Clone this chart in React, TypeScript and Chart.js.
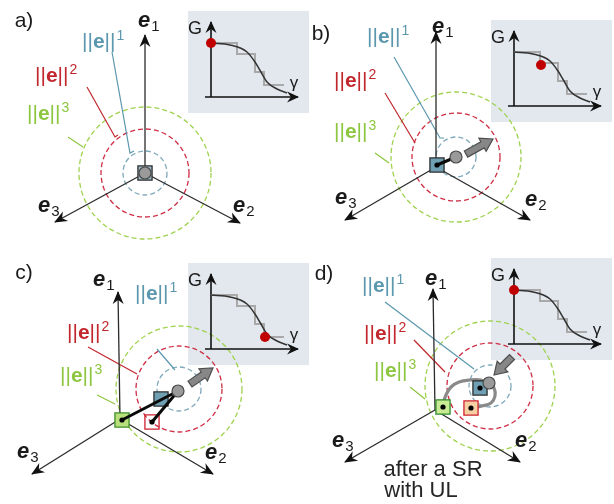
import { useEffect, useRef } from 'react';
import { Chart, registerables } from 'chart.js';
Chart.register(...registerables);

type P = [number, number];

const W = 614;
const H = 504;
const FONT = '"Liberation Sans", Arial, sans-serif';

// ---- diagram data (pixel-like coordinates on a 614 x 504 plane) ----
const panelNames = ['a)', 'b)', 'c)', 'd)'];
const panelNamePos: P[] = [[24, 21], [321, 34], [24, 273], [324, 274]];

const origins: P[] = [[145, 173], [436, 167], [120, 419], [435, 410]];
const e1Tips: P[] = [[145, 35], [436, 32], [118, 292], [433, 289]];
const e2Tips: P[] = [[240, 223], [530, 220], [213, 474], [520, 462]];
const e3Tips: P[] = [[55, 222], [345, 220], [32, 474], [345, 462]];
const e1LabelPos: P[] = [[138, 21], [432, 27], [93, 280], [425, 279]];
const e2LabelPos: P[] = [[233, 206], [525, 200], [205, 453], [515, 441]];
const e3LabelPos: P[] = [[38, 206], [335, 198], [17, 452], [332, 441]];

const normPowers = ['1', '2', '3'];
const circleCenters: P[] = [[145, 173], [456, 157], [179, 389], [490, 386]];
const circleRadii: number[][] = [[22, 44, 66], [20, 44, 65], [22, 43, 63], [21, 43, 65]];
const normLabelPos: P[][] = [
  [[82, 42], [35, 76], [27, 114]],
  [[367, 37], [334, 81], [334, 132]],
  [[135, 294], [67, 333], [60, 376]],
  [[362, 286], [364, 334], [374, 371]],
];
const leaderLines: P[][][] = [
  [[[112, 52], [130, 153], [134, 151]], [[87, 87], [115, 137], [118, 135]], [[68, 137], [83, 147]]],
  [[[394, 57], [440, 138], [444, 138]], [[385, 93], [415, 143]], [[375, 153], [389, 163]]],
  [[[157, 349], [175, 370]], [[88, 347], [137, 374]], [[97, 395], [115, 404]]],
  [[[385, 302], [474, 369]], [[414, 340], [445, 372]], [[410, 387], [425, 399]]],
];

// inset G(gamma) plots
const insetOrigins: P[] = [[211, 43], [514, 52], [211, 295], [514, 290]];
const curveX = [0, 19, 36, 44, 50, 56, 66, 76];
const curveY = [0, 2, 9, 19, 29, 39, 46, 50];
const stepX = [0, 26, 26, 44, 44, 53, 53, 73];
const stepY = [0, 0, 11, 11, 29, 29, 42, 42];
const markerOffsets: P[] = [[0, 0], [27, 13], [54, 42], [0, 0]];

// state markers
const balls: P[] = [[145, 173], [456, 157], [178, 391], [489, 383]];
const blueSquares: P[] = [[145, 173], [437, 165], [161, 399], [480, 388]];
const greenSquares: P[] = [[122, 420], [443, 407]];
const redSquares: P[] = [[152, 422], [471, 408]];
const blackLinks: P[][] = [
  [[437, 165], [456, 157]],
  [[122, 420], [178, 391]],
  [[152, 422], [178, 391]],
];
const dots: P[] = [[437, 165], [122, 420], [152, 422], [480, 388], [471, 408], [443, 407]];
const grayPaths: P[][] = [
  [[443, 404], [446, 395], [451, 387], [459, 382], [470, 380], [481, 380], [489, 383]],
  [[489, 383], [494, 388], [495, 396], [491, 403], [482, 406], [471, 408]],
];
const blockArrows: P[][] = [
  [[466, 154], [493, 139]],
  [[190, 384], [213, 368]],
  [[512, 357], [494, 375]],
];
const noteLines = ['after a SR', 'with UL'];
const notePos: P[] = [[433, 470], [421, 491]];

// ---- styles ----
const NORM_COLORS = ['#5b97ae', '#c1272d', '#8dc63f'];
const CIRCLE_COLORS = ['#7fa9bb', '#cf2f45', '#9fd24f'];

const pts = (a: P[]) => a.map(([x, y]) => ({ x, y }));
const rel = (o: P, xs: number[], ys: number[]): P[] => xs.map((x, i) => [o[0] + x, o[1] + ys[i]]);

function lineDs(points: P[], color: string, width: number, order: number, extra: any = {}) {
  return {
    data: pts(points),
    showLine: true,
    borderColor: color,
    backgroundColor: color,
    borderWidth: width,
    pointRadius: 0,
    pointHoverRadius: 0,
    fill: false,
    tension: 0,
    order,
    ...extra,
  };
}
function pointDs(points: P[], style: string, radius: number, fill: string, stroke: string, bw: number, order: number) {
  return {
    data: pts(points),
    showLine: false,
    pointStyle: style,
    pointRadius: radius,
    pointHoverRadius: radius,
    backgroundColor: fill,
    borderColor: stroke,
    borderWidth: bw,
    order,
  };
}

function insetAxes(o: P): { y: P[]; x: P[] } {
  return { y: [[o[0], o[1] + 54], [o[0], o[1] - 21]], x: [[o[0] - 6, o[1] + 54], [o[0] + 87, o[1] + 54]] };
}

function buildDatasets() {
  const ds: any[] = [];
  origins.forEach((o, i) => {
    [e1Tips[i], e2Tips[i], e3Tips[i]].forEach((t) => ds.push(lineDs([o, t], '#2b2b2b', 1.3, 10)));
    leaderLines[i].forEach((l, k) => ds.push(lineDs(l, NORM_COLORS[k], 1.2, 10)));
    const ax = insetAxes(insetOrigins[i]);
    ds.push(lineDs(ax.y, '#111', 1.6, 10));
    ds.push(lineDs(ax.x, '#111', 1.6, 10));
    ds.push(lineDs(rel(insetOrigins[i], stepX, stepY), '#a9a9a9', 2, 9));
    ds.push(lineDs(rel(insetOrigins[i], curveX, curveY), '#333', 1.5, 8, { cubicInterpolationMode: 'monotone' }));
    const m = markerOffsets[i];
    ds.push(pointDs([[insetOrigins[i][0] + m[0], insetOrigins[i][1] + m[1]]], 'circle', 5, '#c00000', '#c00000', 0, 7));
  });
  grayPaths.forEach((p) => ds.push(lineDs(p, '#8a8a8a', 3.2, 6, { tension: 0.4 })));
  ds.push(pointDs([blueSquares[0]], 'rect', 10, '#9db8c5', '#2d2d2d', 1.3, 5));
  ds.push(pointDs(blueSquares.slice(1), 'rect', 10, '#6f9fb3', '#2d2d2d', 1.3, 5));
  ds.push(pointDs([greenSquares[0]], 'rect', 10, '#b8e07c', '#3f8f2a', 1.3, 5));
  ds.push(pointDs([greenSquares[1]], 'rect', 10, '#c8eb93', '#2f8a2a', 1.3, 5));
  ds.push(pointDs([redSquares[0]], 'rect', 10, 'rgba(255,255,255,0)', '#d0202f', 1.3, 5));
  ds.push(pointDs([redSquares[1]], 'rect', 10, '#f6cfa3', '#d0202f', 1.3, 5));
  blackLinks.forEach((l) => ds.push(lineDs(l, '#0a0a0a', 3, 4)));
  ds.push(pointDs(dots, 'circle', 2.6, '#000', '#000', 0, 3));
  ds.push(pointDs(balls, 'circle', 6, '#9a9a9a', '#4a4a4a', 1.2, 2));
  return ds;
}

function stealth(ctx: CanvasRenderingContext2D, tip: P, from: P, len: number, half: number) {
  const ang = Math.atan2(tip[1] - from[1], tip[0] - from[0]);
  ctx.save();
  ctx.translate(tip[0], tip[1]);
  ctx.rotate(ang);
  ctx.beginPath();
  ctx.moveTo(1, 0);
  ctx.lineTo(-len, -half);
  ctx.lineTo(-len + 4, 0);
  ctx.lineTo(-len, half);
  ctx.closePath();
  ctx.fillStyle = '#111';
  ctx.fill();
  ctx.restore();
}

function blockArrow(ctx: CanvasRenderingContext2D, a: P, b: P) {
  const ang = Math.atan2(b[1] - a[1], b[0] - a[0]);
  const L = Math.hypot(b[0] - a[0], b[1] - a[1]);
  const hl = 12;
  ctx.save();
  ctx.translate(a[0], a[1]);
  ctx.rotate(ang);
  ctx.beginPath();
  ctx.moveTo(0, -3.5);
  ctx.lineTo(L - hl, -3.5);
  ctx.lineTo(L - hl, -7.5);
  ctx.lineTo(L, 0);
  ctx.lineTo(L - hl, 7.5);
  ctx.lineTo(L - hl, 3.5);
  ctx.lineTo(0, 3.5);
  ctx.closePath();
  ctx.fillStyle = '#878787';
  ctx.fill();
  ctx.strokeStyle = '#4f4f4f';
  ctx.lineWidth = 1.2;
  ctx.stroke();
  ctx.restore();
}

function drawE(ctx: CanvasRenderingContext2D, p: P, sub: string) {
  ctx.fillStyle = '#1a1a1a';
  ctx.textBaseline = 'middle';
  ctx.textAlign = 'left';
  ctx.font = `italic bold 22px ${FONT}`;
  ctx.fillText('e', p[0], p[1]);
  const w = ctx.measureText('e').width;
  ctx.font = `15px ${FONT}`;
  ctx.fillText(sub, p[0] + w + 1, p[1] + 6);
}

function drawNorm(ctx: CanvasRenderingContext2D, p: P, power: string, color: string) {
  ctx.fillStyle = color;
  ctx.textBaseline = 'middle';
  ctx.textAlign = 'left';
  let x = p[0];
  ctx.font = `21px ${FONT}`;
  ctx.fillText('||', x, p[1]);
  x += ctx.measureText('||').width;
  ctx.font = `bold 21px ${FONT}`;
  ctx.fillText('e', x, p[1]);
  x += ctx.measureText('e').width;
  ctx.font = `21px ${FONT}`;
  ctx.fillText('||', x, p[1]);
  x += ctx.measureText('||').width + 1;
  ctx.font = `14px ${FONT}`;
  ctx.fillText(power, x, p[1] - 6);
}

const diagramPlugin = {
  id: 'diagram',
  beforeDatasetsDraw(chart: any) {
    const ctx: CanvasRenderingContext2D = chart.ctx;
    const sx = chart.scales.x;
    const sy = chart.scales.y;
    const toPx = (p: P): P => [sx.getPixelForValue(p[0]), sy.getPixelForValue(p[1])];
    ctx.save();
    ctx.fillStyle = '#fff';
    ctx.fillRect(0, 0, chart.width, chart.height);
    // inset backgrounds
    insetOrigins.forEach((o) => {
      const a = toPx([o[0] - 23, o[1] - 32]);
      const b = toPx([Math.min(o[0] + 98, W), o[1] + 70]);
      ctx.fillStyle = '#e2e8ed';
      ctx.fillRect(a[0], a[1], b[0] - a[0], b[1] - a[1]);
    });
    // dashed norm circles
    circleCenters.forEach((c, i) => {
      const cp = toPx(c);
      circleRadii[i].forEach((r, k) => {
        const rp = Math.abs(sx.getPixelForValue(c[0] + r) - cp[0]);
        ctx.beginPath();
        ctx.setLineDash([5, 3]);
        ctx.lineWidth = 1.3;
        ctx.strokeStyle = CIRCLE_COLORS[k];
        ctx.arc(cp[0], cp[1], rp, 0, Math.PI * 2);
        ctx.stroke();
      });
    });
    ctx.setLineDash([]);
    ctx.restore();
  },
  afterDatasetsDraw(chart: any) {
    const ctx: CanvasRenderingContext2D = chart.ctx;
    const sx = chart.scales.x;
    const sy = chart.scales.y;
    const toPx = (p: P): P => [sx.getPixelForValue(p[0]), sy.getPixelForValue(p[1])];
    ctx.save();
    origins.forEach((o, i) => {
      const op = toPx(o);
      [e1Tips[i], e2Tips[i], e3Tips[i]].forEach((t) => stealth(ctx, toPx(t), op, 12, 5.5));
      const ax = insetAxes(insetOrigins[i]);
      stealth(ctx, toPx(ax.y[1]), toPx(ax.y[0]), 11, 5.5);
      stealth(ctx, toPx(ax.x[1]), toPx(ax.x[0]), 11, 5.5);
      // labels
      drawE(ctx, toPx(e1LabelPos[i]), '1');
      drawE(ctx, toPx(e2LabelPos[i]), '2');
      drawE(ctx, toPx(e3LabelPos[i]), '3');
      normLabelPos[i].forEach((p, k) => drawNorm(ctx, toPx(p), normPowers[k], NORM_COLORS[k]));
      ctx.fillStyle = '#1a1a1a';
      ctx.font = `21px ${FONT}`;
      ctx.textAlign = 'center';
      ctx.textBaseline = 'middle';
      const np = toPx(panelNamePos[i]);
      ctx.fillText(panelNames[i], np[0], np[1]);
      const io = insetOrigins[i];
      const gp = toPx([io[0] - 16, io[1] - 14]);
      ctx.font = `18px ${FONT}`;
      ctx.fillText('G', gp[0], gp[1]);
      const yp = toPx([io[0] + 83, io[1] + 40]);
      ctx.font = `17px ${FONT}`;
      ctx.fillText('γ', yp[0], yp[1]);
    });
    blockArrows.forEach((a) => blockArrow(ctx, toPx(a[0]), toPx(a[1])));
    ctx.fillStyle = '#262626';
    ctx.font = `22px ${FONT}`;
    ctx.textAlign = 'center';
    ctx.textBaseline = 'middle';
    noteLines.forEach((t, i) => {
      const p = toPx(notePos[i]);
      ctx.fillText(t, p[0], p[1]);
    });
    ctx.restore();
  },
};

export default function App() {
  const ref = useRef<HTMLCanvasElement>(null);
  useEffect(() => {
    if (!ref.current) return;
    const chart = new Chart(ref.current, {
      type: 'scatter',
      data: { datasets: buildDatasets() },
      options: {
        animation: false,
        responsive: false,
        maintainAspectRatio: false,
        events: [],
        layout: { padding: 0, autoPadding: false },
        scales: {
          x: { type: 'linear', min: 0, max: W, display: false },
          y: { type: 'linear', min: 0, max: H, reverse: true, display: false },
        },
        plugins: { legend: { display: false }, tooltip: { enabled: false } },
      },
      plugins: [diagramPlugin],
    } as any);
    return () => chart.destroy();
  }, []);
  return (
    <div style={{ position: 'fixed', left: 0, top: 0, width: W, height: H, background: '#fff' }}>
      <canvas ref={ref} width={W} height={H} style={{ width: W, height: H, display: 'block' }} />
    </div>
  );
}
